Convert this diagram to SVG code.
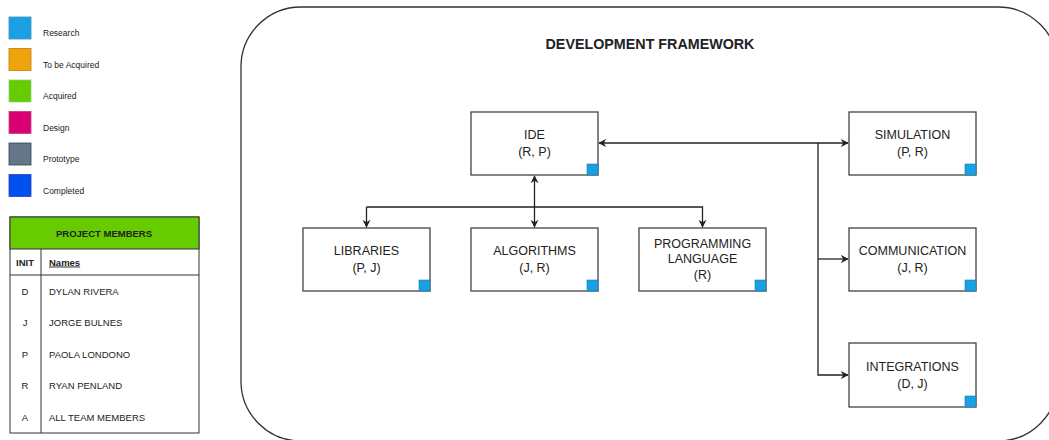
<svg xmlns="http://www.w3.org/2000/svg" width="1049" height="440" viewBox="0 0 1049 440">
<defs>
<style>
text{font-family:"Liberation Sans",Arial,sans-serif;fill:#222}
.lg{font-size:8.5px}
.tb{font-size:9.5px}
.nt{font-size:12.5px;text-anchor:middle}
.node rect.b{fill:#fff;stroke:#444;stroke-width:1.3}
.node rect.c{fill:#1BA1E2;stroke:#0e7fb8;stroke-width:0.6}
.conn path{fill:none;stroke:#222;stroke-width:1.3}
</style>
<marker id="ah" viewBox="0 0 10 10" refX="9" refY="5" markerWidth="8" markerHeight="8" orient="auto-start-reverse" markerUnits="userSpaceOnUse">
<path d="M0,0 L10,5 L0,10 L3,5 z" fill="#222"/>
</marker>
</defs>
<rect width="1049" height="440" fill="#fff"/>

<g id="legend">
<rect x="9" y="17" width="22" height="22" fill="#1BA1E2" stroke="#3a8fc8" stroke-width="0.8"/>
<text class="lg" x="43" y="36">Research</text>
<rect x="9" y="48.5" width="22" height="22" fill="#F0A30A" stroke="#c07a10" stroke-width="0.8"/>
<text class="lg" x="43" y="67.5">To be Acquired</text>
<rect x="9" y="80" width="22" height="22" fill="#66CC00" stroke="#8fd080" stroke-width="0.8"/>
<text class="lg" x="43" y="99">Acquired</text>
<rect x="9" y="111.5" width="22" height="22" fill="#D80073" stroke="#c0406a" stroke-width="0.8"/>
<text class="lg" x="43" y="130.5">Design</text>
<rect x="9" y="143" width="22" height="22" fill="#647687" stroke="#314354" stroke-width="0.8"/>
<text class="lg" x="43" y="162">Prototype</text>
<rect x="9" y="174.5" width="22" height="22" fill="#0050EF" stroke="#2a3fb0" stroke-width="0.8"/>
<text class="lg" x="43" y="193.5">Completed</text>
</g>

<g id="members">
<rect x="10" y="217" width="189" height="216" fill="#fff" stroke="#333" stroke-width="1"/>
<rect x="10" y="217" width="189" height="32" fill="#66CC00" stroke="#333" stroke-width="1"/>
<line x1="10" y1="275" x2="199" y2="275" stroke="#333" stroke-width="1"/>
<line x1="41" y1="249" x2="41" y2="433" stroke="#333" stroke-width="1"/>
<text class="tb" x="104" y="236.5" text-anchor="middle" font-weight="bold">PROJECT MEMBERS</text>
<text class="tb" x="25" y="265.5" text-anchor="middle" font-weight="bold">INIT</text>
<text class="tb" x="49" y="265.5" font-weight="bold" text-decoration="underline">Names</text>
<text class="tb" x="25" y="294.5" text-anchor="middle">D</text>
<text class="tb" x="49" y="294.5">DYLAN RIVERA</text>
<text class="tb" x="25" y="326" text-anchor="middle">J</text>
<text class="tb" x="49" y="326">JORGE BULNES</text>
<text class="tb" x="25" y="357.5" text-anchor="middle">P</text>
<text class="tb" x="49" y="357.5">PAOLA LONDONO</text>
<text class="tb" x="25" y="389" text-anchor="middle">R</text>
<text class="tb" x="49" y="389">RYAN PENLAND</text>
<text class="tb" x="25" y="420.5" text-anchor="middle">A</text>
<text class="tb" x="49" y="420.5">ALL TEAM MEMBERS</text>
</g>

<g id="framework">
<rect x="241" y="7" width="817" height="434" rx="60" ry="60" fill="none" stroke="#333" stroke-width="1.3"/>
<text x="650" y="49" text-anchor="middle" font-size="14.3" font-weight="bold">DEVELOPMENT FRAMEWORK</text>
</g>

<g id="connectors" class="conn">
<path d="M599,143 L848,143" marker-start="url(#ah)" marker-end="url(#ah)"/>
<path d="M818,143 L818,375 L848,375" marker-end="url(#ah)"/>
<path d="M818,259 L848,259" marker-end="url(#ah)"/>
<path d="M534.5,176 L534.5,227" marker-start="url(#ah)" marker-end="url(#ah)"/>
<path d="M366.5,207 L702.5,207 L702.5,227" marker-end="url(#ah)"/>
<path d="M366.5,207 L366.5,227" marker-end="url(#ah)"/>
</g>

<g id="ide" class="node">
<rect class="b" x="471" y="112" width="127" height="63"/>
<rect class="c" x="587" y="164" width="11" height="11"/>
<text class="nt" x="534.5" y="139">IDE</text>
<text class="nt" x="534.5" y="156">(R, P)</text>
</g>
<g id="libraries" class="node">
<rect class="b" x="303" y="228" width="127" height="63"/>
<rect class="c" x="419" y="280" width="11" height="11"/>
<text class="nt" x="366.5" y="255">LIBRARIES</text>
<text class="nt" x="366.5" y="272">(P, J)</text>
</g>
<g id="algorithms" class="node">
<rect class="b" x="471" y="228" width="127" height="63"/>
<rect class="c" x="587" y="280" width="11" height="11"/>
<text class="nt" x="534.5" y="255">ALGORITHMS</text>
<text class="nt" x="534.5" y="272">(J, R)</text>
</g>
<g id="proglang" class="node">
<rect class="b" x="639" y="228" width="127" height="63"/>
<rect class="c" x="755" y="280" width="11" height="11"/>
<text class="nt" x="702.5" y="248">PROGRAMMING</text>
<text class="nt" x="702.5" y="263">LANGUAGE</text>
<text class="nt" x="702.5" y="279">(R)</text>
</g>
<g id="simulation" class="node">
<rect class="b" x="849" y="112" width="127" height="63"/>
<rect class="c" x="965" y="164" width="11" height="11"/>
<text class="nt" x="912.5" y="139">SIMULATION</text>
<text class="nt" x="912.5" y="156">(P, R)</text>
</g>
<g id="communication" class="node">
<rect class="b" x="849" y="228" width="127" height="63"/>
<rect class="c" x="965" y="280" width="11" height="11"/>
<text class="nt" x="912.5" y="255">COMMUNICATION</text>
<text class="nt" x="912.5" y="272">(J, R)</text>
</g>
<g id="integrations" class="node">
<rect class="b" x="849" y="343" width="127" height="64"/>
<rect class="c" x="965" y="396" width="11" height="11"/>
<text class="nt" x="912.5" y="371">INTEGRATIONS</text>
<text class="nt" x="912.5" y="388">(D, J)</text>
</g>
</svg>
